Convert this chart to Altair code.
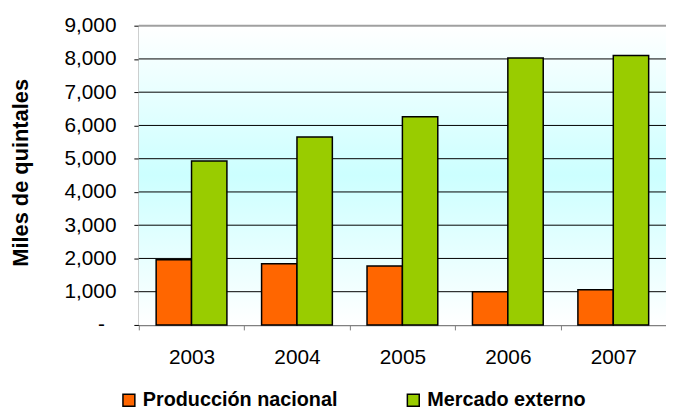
import altair as alt
import pandas as pd

years = ["2003", "2004", "2005", "2006", "2007"]
produccion = [1960, 1840, 1770, 1000, 1060]
mercado = [4930, 5650, 6260, 8030, 8100]
series = ["Producción nacional", "Mercado externo"]
colors = ["#FF6600", "#99CC00"]
y_ticks = [0, 1000, 2000, 3000, 4000, 5000, 6000, 7000, 8000, 9000]

rows = []
for i, yr in enumerate(years):
    rows.append({"year": yr, "serie": series[0], "valor": produccion[i]})
    rows.append({"year": yr, "serie": series[1], "valor": mercado[i]})
df = pd.DataFrame(rows)

W, H = 532, 302
FONT = "Liberation Sans"
yscale = alt.Scale(domain=[0, 9000], nice=False)
yaxis = alt.Axis(
    values=y_ticks,
    labelExpr="datum.value == 0 ? '-\u00a0\u00a0\u200b' : format(datum.value, ',')",
    grid=False, tickSize=5, tickColor="black",
    domainColor="#808080", domainWidth=1.5,
    labelFontSize=21, labelColor="black", labelFont=FONT, labelPadding=18,
    title="Miles de quintales", titleFontSize=22, titleFont=FONT,
    titleFontWeight="bold", titleColor="black",
    titleX=-112, titleY=148, titleAngle=270,
    titleBaseline="alphabetic", titleAlign="center",
)

bg = alt.Chart(pd.DataFrame({"k": [0]})).mark_rect(
    fill=alt.Gradient(
        gradient="linear", x1=0, y1=0, x2=0, y2=1,
        stops=[
            alt.GradientStop(color="#ffffff", offset=0),
            alt.GradientStop(color="#ccffff", offset=0.5),
            alt.GradientStop(color="#ffffff", offset=1),
        ],
    )
).encode(x=alt.value(0), x2=alt.value("width"), y=alt.value(0), y2=alt.value("height"))

grid = alt.Chart(pd.DataFrame({"v": y_ticks[1:]})).mark_rule().encode(
    y=alt.Y("v:Q", scale=yscale, axis=yaxis, title="Miles de quintales"),
    color=alt.condition(alt.datum.v == 9000, alt.value("#a0a0a0"), alt.value("black")),
    strokeWidth=alt.condition(alt.datum.v == 9000, alt.value(2), alt.value(1)),
)

bars = alt.Chart(df).mark_bar(stroke="black", strokeWidth=1.5).encode(
    x=alt.X(
        "year:N",
        scale=alt.Scale(paddingInner=0, paddingOuter=0),
        axis=alt.Axis(
            title=None, labelAngle=0, tickBand="extent", tickSize=5,
            tickColor="#808080", domainColor="#808080", domainWidth=1.5,
            labelFontSize=21, labelPadding=17, labelColor="black",
            labelFont=FONT, grid=False,
        ),
    ),
    xOffset=alt.XOffset(
        "serie:N", sort=series,
        scale=alt.Scale(paddingInner=0, paddingOuter=0.49),
    ),
    y=alt.Y("valor:Q", scale=yscale, axis=yaxis, title="Miles de quintales"),
    color=alt.Color(
        "serie:N", sort=series,
        scale=alt.Scale(domain=series, range=colors),
        legend=alt.Legend(
            orient="none", legendX=-20, legendY=368, direction="horizontal",
            title=None, symbolType="square", symbolSize=144,
            symbolStrokeColor="black", symbolStrokeWidth=1.5,
            labelFontSize=20, labelFontWeight="bold", labelFont=FONT,
            labelColor="black", labelOffset=4, columnPadding=66,
            padding=0, labelLimit=400,
        ),
    ),
)

chart = alt.layer(bg, grid, bars).properties(
    width=W, height=H,
    padding={"left": 132, "top": 16, "right": 0, "bottom": 86},
    autosize=alt.AutoSizeParams(type="none"),
).configure_view(stroke=None).configure(font=FONT)

chart.save("out.html", embed_options={"renderer": "svg", "actions": False})
